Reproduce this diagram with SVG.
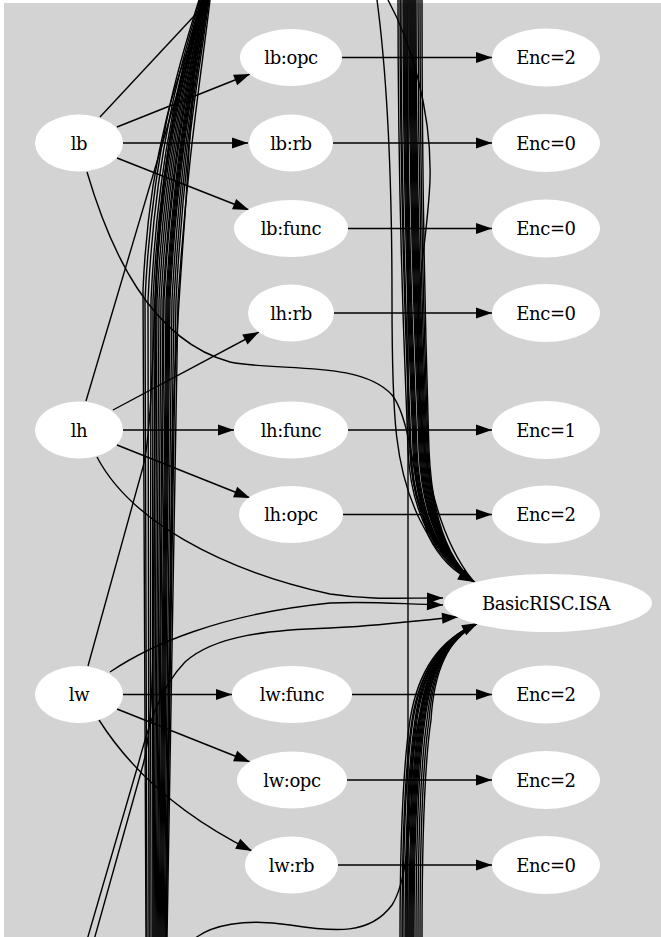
<svg xmlns="http://www.w3.org/2000/svg" width="661" height="937" viewBox="0 0 661 937">
<style>
.bg{fill:#d3d3d3}
.n ellipse{fill:#ffffff;stroke:none}
.n text{font-family:"DejaVu Serif","Liberation Serif",serif;font-size:18px;fill:#000;text-anchor:middle;letter-spacing:-0.4px}
.e path{fill:none;stroke:#000;stroke-width:1.4}
.e .a{marker-end:url(#ah)}
</style>
<defs>
<marker id="ah" markerUnits="userSpaceOnUse" markerWidth="17" markerHeight="12" refX="16" refY="5.6" orient="auto" overflow="visible">
<path d="M0,0 L16,5.6 L0,11.2 z" fill="#000"/>
</marker>
</defs>
<rect width="661" height="937" fill="#ffffff"/>
<rect class="bg" x="4" y="3" width="657" height="934"/>
<g id="connectors" class="e">
<!-- left bundle -->
<path d="M199,0 C180,60 152,150 145,300 L147,940"/>
<path d="M200,0 C182,60 155,150 148,300 L149,940"/>
<path d="M201,0 C184,60 158,150 151,300 L150,940"/>
<path d="M202,0 C186,60 160,150 153,300 L152,940"/>
<path d="M202,0 C188,60 163,150 155,300 L153,940"/>
<path d="M203,0 C189,60 165,150 157,300 L154,940"/>
<path d="M203,0 C190,60 167,150 159,300 L155,940"/>
<path d="M204,0 C191,60 169,150 161,300 L156,940"/>
<path d="M204,0 C192,60 171,150 163,300 L157,940"/>
<path d="M205,0 C193,60 172,150 164,300 L158,940"/>
<path d="M205,0 C194,60 174,150 166,300 L159,940"/>
<path d="M206,0 C195,60 175,150 167,300 L160,940"/>
<path d="M206,0 C196,60 176,150 168,300 L161,940"/>
<path d="M207,0 C197,60 177,150 169,300 L162,940"/>
<path d="M207,0 C198,60 178,150 170,300 L163,940"/>
<path d="M208,0 C199,60 180,150 172,300 L164,940"/>
<path d="M208,0 C200,60 182,150 174,300 L165,940"/>
<path d="M209,0 C201,60 184,150 176,300 L166,940"/>
<path d="M210,0 C202,70 188,150 178,300 L167,940"/>
<path d="M206,0 C188,50 150,130 143,290 L146,940"/>
<path d="M203,0 C196,30 192,100 186,200 C182,260 176,330 173,420 L166,940"/>
<!-- lines from left nodes to top -->
<path d="M100,117 L209,0"/>
<path d="M86,401 L205,0"/>
<path d="M88,666 L143,467 C150,440 152,380 155,300 C160,150 185,50 203,0"/>
<!-- lines from bottom-left -->
<path d="M94,940 L143,765 C150,740 152,700 153,650 L156,300 C159,150 190,50 204,0"/>
<!-- right top bundle to ISA -->
<path d="M398,0 C398,250 406,380 408,450 C411,520 440,560 473,581"/>
<path d="M400,0 C400,250 408,380 410,450 C413,520 440,560 473,581"/>
<path d="M401,0 C401,250 409,380 411,450 C414,520 441,560 473,581"/>
<path d="M403,0 C403,250 411,380 413,450 C416,520 441,560 473,581"/>
<path d="M404,0 C404,250 412,380 414,450 C417,520 442,560 473,581"/>
<path d="M405,0 C405,250 413,380 415,450 C418,520 442,560 473,581"/>
<path d="M406,0 C406,250 414,380 416,450 C419,520 443,560 473,581"/>
<path d="M407,0 C407,250 415,380 417,450 C420,520 443,560 473,581"/>
<path d="M409,0 C409,250 417,380 419,450 C422,520 444,560 473,581"/>
<path d="M410,0 C410,250 418,380 420,450 C423,520 444,560 473,581"/>
<path d="M411,0 C411,250 419,380 421,450 C424,520 445,560 473,581"/>
<path d="M412,0 C412,250 420,380 422,450 C425,520 445,560 473,581"/>
<path d="M413,0 C413,250 421,380 423,450 C426,520 446,560 473,581"/>
<path d="M414,0 C414,250 422,380 424,450 C427,520 446,560 473,581"/>
<path d="M415,0 C415,250 423,380 425,450 C428,520 447,560 473,581"/>
<path d="M416,0 C416,250 424,380 426,450 C429,520 447,560 473,581"/>
<path d="M418,0 C418,250 425,380 427,450 C430,520 448,560 473,581"/>
<path d="M420,0 C420,250 426,380 428,450 C431,520 448,560 473,581"/>
<path d="M422,0 C422,250 427,380 429,450 C432,520 449,560 473,581"/>
<path d="M377,0 C385,60 392,150 392,300 C392,420 395,470 420,520 C435,550 450,568 473,581"/>
<path d="M388,0 C410,40 432,110 430,180 C428,230 420,260 418,320 C417,420 425,520 473,581"/>
<path class="a" d="M87,172 C110,250 150,340 230,362 C280,372 360,360 392,395 C412,420 416,500 428,535 C440,560 455,572 474,582"/>
<path class="a" d="M410,450 C413,520 442,562 475,582"/>
<!-- straight through line -->
<path d="M408,0 L408,940"/>
<!-- right bottom bundle to ISA -->
<path d="M400,940 C400,820 404,760 410,720 C418,670 440,640 476,624"/>
<path d="M402,940 C402,820 406,760 412,720 C420,670 441,640 476,624"/>
<path d="M403,940 C403,820 407,760 413,720 C421,670 441,640 476,624"/>
<path d="M405,940 C405,820 409,760 415,720 C422,670 442,640 476,624"/>
<path d="M406,940 C406,820 410,760 416,720 C423,670 442,640 476,624"/>
<path d="M407,940 C407,820 411,760 417,720 C424,670 443,640 476,624"/>
<path d="M409,940 C409,820 413,760 419,720 C425,670 443,640 476,624"/>
<path d="M410,940 C410,820 414,760 420,720 C426,670 444,640 476,624"/>
<path d="M411,940 C411,820 415,760 421,720 C427,670 444,640 476,624"/>
<path d="M412,940 C412,820 416,760 422,720 C428,670 445,640 476,624"/>
<path d="M413,940 C413,820 417,760 423,720 C429,670 445,640 476,624"/>
<path d="M414,940 C414,820 418,760 424,720 C430,670 446,640 476,624"/>
<path d="M416,940 C416,820 419,760 425,720 C431,670 446,640 476,624"/>
<path d="M418,940 C418,820 421,760 427,720 C432,670 447,640 476,624"/>
<path d="M420,940 C420,820 423,760 429,720 C433,670 447,640 476,624"/>
<path d="M422,940 C422,820 425,760 431,720 C434,670 448,640 476,624"/>
<path d="M193,940 C210,925 245,918 290,925 C335,932 370,935 392,905 C405,885 410,840 412,780 C414,720 428,655 476,624"/>
<path class="a" d="M420,720 C426,670 444,640 478,623"/>
<!-- edges into ISA from left -->
<path class="a" d="M97,457 C130,520 220,570 330,594 C370,600 400,598 443,598"/>
<path class="a" d="M110,672 C150,645 220,614 330,603 C370,601 400,604 443,605"/>
<path class="a" d="M87,940 L138,765 C148,728 158,690 185,662 C215,635 270,630 330,628 C380,626 420,620 458,617"/>
<!-- left to middle -->
<path class="a" d="M117,127 L250,74"/>
<path class="a" d="M123,143 L248,143"/>
<path class="a" d="M117,158 L249,210"/>
<path class="a" d="M113,410 L259,332"/>
<path class="a" d="M123,430 L234,430"/>
<path class="a" d="M117,445 L250,498"/>
<path class="a" d="M123,694.5 L232,694.5"/>
<path class="a" d="M117,709 L250,762"/>
<path class="a" d="M99,720 Q150,800 252,851"/>
<!-- middle to Enc -->
<path class="a" d="M342,57.5 L492,57.5"/>
<path class="a" d="M333,143 L492,143"/>
<path class="a" d="M348,228.5 L492,228.5"/>
<path class="a" d="M334,313 L492,313"/>
<path class="a" d="M348,430 L492,430"/>
<path class="a" d="M343,514.5 L492,514.5"/>
<path class="a" d="M352,694.5 L492,694.5"/>
<path class="a" d="M347,780 L492,780"/>
<path class="a" d="M338,865 L492,865"/>
</g>
<g id="n_lb" class="n"><ellipse cx="79" cy="143" rx="44" ry="28.5"/><text x="79" y="149.5">lb</text></g>
<g id="n_lh" class="n"><ellipse cx="79" cy="430" rx="44" ry="28.5"/><text x="79" y="436.5">lh</text></g>
<g id="n_lw" class="n"><ellipse cx="79" cy="694.5" rx="44" ry="28.5"/><text x="79" y="701">lw</text></g>
<g id="n_lb_opc" class="n"><ellipse cx="291" cy="57.5" rx="51" ry="28.5"/><text x="291" y="64">lb:opc</text></g>
<g id="n_lb_rb" class="n"><ellipse cx="291" cy="143" rx="42" ry="28.5"/><text x="291" y="149.5">lb:rb</text></g>
<g id="n_lb_func" class="n"><ellipse cx="291" cy="228.5" rx="57" ry="28.5"/><text x="291" y="235">lb:func</text></g>
<g id="n_lh_rb" class="n"><ellipse cx="291" cy="313" rx="43" ry="28.5"/><text x="291" y="319.5">lh:rb</text></g>
<g id="n_lh_func" class="n"><ellipse cx="291" cy="430" rx="57" ry="28.5"/><text x="291" y="436.5">lh:func</text></g>
<g id="n_lh_opc" class="n"><ellipse cx="291" cy="514.5" rx="52" ry="28.5"/><text x="291" y="521">lh:opc</text></g>
<g id="n_lw_func" class="n"><ellipse cx="292" cy="694.5" rx="60" ry="28.5"/><text x="292" y="701">lw:func</text></g>
<g id="n_lw_opc" class="n"><ellipse cx="292" cy="780" rx="55" ry="28.5"/><text x="292" y="786.5">lw:opc</text></g>
<g id="n_lw_rb" class="n"><ellipse cx="291.5" cy="865" rx="46.5" ry="28.5"/><text x="291.5" y="871.5">lw:rb</text></g>
<g id="n_isa" class="n"><ellipse cx="548" cy="603" rx="104" ry="29"/><text x="546" y="609.5">BasicRISC.ISA</text></g>
<g id="n_enc1" class="n"><ellipse cx="546" cy="57.5" rx="54" ry="29"/><text x="546" y="64">Enc=2</text></g>
<g id="n_enc2" class="n"><ellipse cx="546" cy="143" rx="54" ry="29"/><text x="546" y="149.5">Enc=0</text></g>
<g id="n_enc3" class="n"><ellipse cx="546" cy="228.5" rx="54" ry="29"/><text x="546" y="235">Enc=0</text></g>
<g id="n_enc4" class="n"><ellipse cx="546" cy="313" rx="54" ry="29"/><text x="546" y="319.5">Enc=0</text></g>
<g id="n_enc5" class="n"><ellipse cx="546" cy="430" rx="54" ry="29"/><text x="546" y="436.5">Enc=1</text></g>
<g id="n_enc6" class="n"><ellipse cx="546" cy="514.5" rx="54" ry="29"/><text x="546" y="521">Enc=2</text></g>
<g id="n_enc7" class="n"><ellipse cx="546" cy="694.5" rx="54" ry="29"/><text x="546" y="701">Enc=2</text></g>
<g id="n_enc8" class="n"><ellipse cx="546" cy="780" rx="54" ry="29"/><text x="546" y="786.5">Enc=2</text></g>
<g id="n_enc9" class="n"><ellipse cx="546" cy="865" rx="54" ry="29"/><text x="546" y="871.5">Enc=0</text></g>
</svg>
